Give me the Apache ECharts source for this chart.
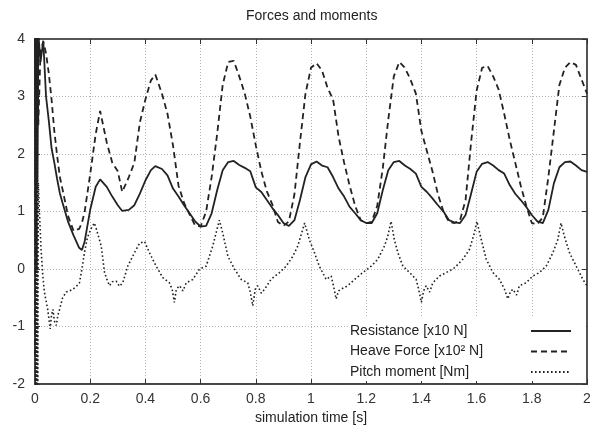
<!DOCTYPE html>
<html>
<head>
<meta charset="utf-8">
<script src="https://cdn.jsdelivr.net/npm/echarts@6/dist/echarts.min.js"></script>
<style>
  html, body { margin: 0; padding: 0; background: #fff; }
  #main { width: 599px; height: 430px; }
</style>
</head>
<body>
<div id="main"></div>
<script>
// time samples shared by resistance and heave force
const time = [
  0, 0.003, 0.006, 0.009, 0.012, 0.02, 0.03, 0.04, 0.05, 0.06,
  0.07, 0.08, 0.09, 0.1, 0.12, 0.14, 0.16, 0.17, 0.18, 0.2,
  0.22, 0.236, 0.26, 0.28, 0.3, 0.316, 0.34, 0.36, 0.38, 0.4,
  0.42, 0.436, 0.46, 0.48, 0.5,
  0.52, 0.54, 0.56, 0.58, 0.6, 0.62, 0.64, 0.66, 0.68, 0.7,
  0.72, 0.74, 0.76, 0.78, 0.8, 0.82, 0.84, 0.86, 0.88, 0.9,
  0.92, 0.94, 0.96, 0.98, 1.0, 1.02, 1.04, 1.06, 1.08, 1.1,
  1.12, 1.14, 1.16, 1.18, 1.2, 1.22, 1.24, 1.26, 1.28, 1.3,
  1.32, 1.34, 1.36, 1.38, 1.4, 1.42, 1.44, 1.46, 1.48, 1.5,
  1.52, 1.54, 1.56, 1.58, 1.6, 1.62, 1.64, 1.66, 1.68, 1.7,
  1.72, 1.74, 1.76, 1.78, 1.8, 1.82, 1.84, 1.86, 1.88, 1.9,
  1.92, 1.94, 1.96, 1.98, 2.0
]
const resistance = [
  4.3, 0.5, 4.2, 1.5, 4.1, 3.6, 3.97, 3.0, 2.58, 2.1,
  1.85, 1.57, 1.32, 1.15, 0.82, 0.58, 0.37, 0.33, 0.48, 1.03,
  1.43, 1.56, 1.43, 1.26, 1.11, 1.01, 1.03, 1.11, 1.31, 1.54,
  1.72, 1.79, 1.74, 1.63, 1.4,
  1.26, 1.11, 0.97, 0.83, 0.74, 0.75, 0.97, 1.37, 1.72, 1.86,
  1.88, 1.81, 1.76, 1.7, 1.42, 1.34, 1.2, 1.06, 0.94, 0.8,
  0.75, 0.85, 1.2, 1.6, 1.82, 1.87, 1.8, 1.77, 1.6, 1.4,
  1.26, 1.08, 0.97, 0.85, 0.8, 0.8, 0.97, 1.37, 1.72, 1.86,
  1.88, 1.8, 1.74, 1.66, 1.43, 1.34, 1.23, 1.11, 1.0, 0.85,
  0.81, 0.8, 0.94, 1.31, 1.69, 1.83, 1.86, 1.8, 1.72, 1.66,
  1.46, 1.31, 1.2, 1.08, 0.94, 0.83, 0.8, 1.03, 1.49, 1.77,
  1.86, 1.87, 1.8, 1.72, 1.69
]
const heave = [
  -1.5, 4.3, 0.0, 4.2, 2.5, 3.8, 3.95, 3.75, 3.4, 2.95,
  2.4, 1.98, 1.6, 1.38, 0.92, 0.66, 0.7, 0.8, 1.0, 1.65,
  2.35, 2.75, 2.2, 1.85, 1.7, 1.34, 1.6, 1.85, 2.55, 2.95,
  3.28, 3.38, 3.05, 2.7, 2.15,
  1.45, 1.15, 0.95, 0.76, 0.74, 1.0, 1.6, 2.35, 3.2, 3.6,
  3.62, 3.35, 3.05, 2.65, 2.15, 1.7, 1.35, 1.12, 0.82, 0.75,
  0.83, 1.3, 2.2, 3.05, 3.5, 3.58, 3.45, 3.15, 2.95, 2.3,
  1.85, 1.45, 1.1, 0.85, 0.8, 0.82, 1.1, 1.75, 2.6, 3.35,
  3.6, 3.5, 3.3, 3.05, 2.4, 2.05, 1.7, 1.3, 1.0, 0.82,
  0.8, 0.85, 1.2, 2.2, 3.1, 3.5, 3.53, 3.35, 3.12, 2.7,
  2.25, 1.85, 1.45, 1.1, 0.8, 0.78, 0.9, 1.6, 2.4, 3.2,
  3.5, 3.6, 3.55, 3.3, 3.05
]
// pitch moment has its own (uneven) samples, to keep the sharp peaks
const pitchTime = [
  0, 0.002, 0.004, 0.006, 0.008, 0.01, 0.012, 0.016, 0.022, 0.028,
  0.034, 0.04, 0.046, 0.05, 0.055, 0.06, 0.065, 0.07, 0.077, 0.083,
  0.089, 0.1, 0.113, 0.125, 0.137, 0.15, 0.161, 0.17, 0.179, 0.19,
  0.197, 0.205, 0.215, 0.222, 0.228, 0.24, 0.252, 0.262, 0.27, 0.28,
  0.294, 0.306, 0.318, 0.336, 0.36, 0.379, 0.397, 0.415, 0.439, 0.463,
  0.487, 0.497, 0.505, 0.512, 0.524, 0.536, 0.548, 0.572, 0.596, 0.62,
  0.644, 0.668, 0.68, 0.699, 0.723, 0.747, 0.771, 0.78, 0.789, 0.798,
  0.807, 0.82, 0.832, 0.855, 0.886, 0.91, 0.934, 0.952, 0.977, 0.994,
  1.013, 1.03, 1.055, 1.073, 1.082, 1.091, 1.1, 1.109, 1.133, 1.158,
  1.188, 1.218, 1.242, 1.266, 1.278, 1.29, 1.302, 1.315, 1.333, 1.357,
  1.381, 1.39, 1.4, 1.408, 1.417, 1.43, 1.441, 1.466, 1.49, 1.514,
  1.526, 1.55, 1.574, 1.592, 1.601, 1.617, 1.635, 1.659, 1.683, 1.701,
  1.713, 1.722, 1.731, 1.745, 1.755, 1.779, 1.804, 1.828, 1.852, 1.876,
  1.894, 1.906, 1.918, 1.937, 1.961, 1.985, 2.0
]
const pitch = [
  4.2, -2.2, 4.2, -2.2, 3.5, -2.0, 1.5, 1.0, 0.34, -0.1,
  -0.4, -0.55, -0.7, -0.85, -1.04, -0.8, -0.7, -0.9, -0.98, -0.8,
  -0.7, -0.5, -0.4, -0.38, -0.35, -0.3, -0.24, 0.0, 0.28, 0.55,
  0.63, 0.72, 0.8, 0.7, 0.68, 0.4, -0.06, -0.2, -0.29, -0.22,
  -0.21, -0.3, -0.24, 0.05, 0.28, 0.45, 0.48, 0.28, 0.05, -0.15,
  -0.24, -0.35, -0.58, -0.35, -0.29, -0.38, -0.24, -0.18, 0.0, 0.05,
  0.4, 0.85, 0.63, 0.22, 0.0, -0.18, -0.24, -0.4, -0.64, -0.35,
  -0.29, -0.42, -0.35, -0.18, -0.06, 0.05, 0.22, 0.4, 0.8, 0.51,
  0.28, 0.05, -0.18, -0.12, -0.3, -0.52, -0.38, -0.35, -0.29, -0.18,
  -0.06, 0.05, 0.17, 0.4, 0.57, 0.83, 0.51, 0.28, 0.05, -0.06,
  -0.18, -0.35, -0.58, -0.38, -0.29, -0.4, -0.24, -0.12, -0.06, 0.0,
  0.05, 0.17, 0.34, 0.63, 0.83, 0.51, 0.17, -0.06, -0.18, -0.35,
  -0.52, -0.4, -0.35, -0.45, -0.29, -0.24, -0.12, -0.06, 0.05, 0.28,
  0.51, 0.8, 0.57, 0.28, 0.05, -0.18, -0.29
]
const seriesNames = ['Resistance [x10 N]', 'Heave Force [x10² N]', 'Pitch moment [Nm]']

const font = '"Liberation Sans", Arial, sans-serif'
const ink = '#222'

let chart = echarts.init(document.getElementById('main'))

function pairs (ts, vs) {
  return ts.map((t, i) => [t, vs[i]])
}

// gnuplot style frame: plain border with inward ticks on top and right too
let mirrorAxis = {
  type: 'value',
  axisLine: { show: true, onZero: false, lineStyle: { color: '#555', width: 2 } },
  axisTick: { show: true, inside: true, length: 5, lineStyle: { color: '#333', width: 1 } },
  axisLabel: { show: false },
  splitLine: { show: false }
}

let option = {
  animation: false,
  backgroundColor: '#fff',
  title: {
    text: 'Forces and moments',
    left: 246,
    top: 9,
    padding: 0,
    textStyle: { fontSize: 14, fontWeight: 'normal', color: ink, fontFamily: font }
  },
  grid: { left: 35, right: 12, top: 39, bottom: 42, show: true, borderColor: '#555', borderWidth: 1.5, backgroundColor: 'transparent' },
  legend: {
    data: seriesNames,
    orient: 'vertical',
    right: 13,
    bottom: 49,
    align: 'right',
    itemWidth: 40,
    itemHeight: 14,
    itemGap: 6.5,
    backgroundColor: '#fff',
    padding: [6, 14, 2, 2],
    itemStyle: { opacity: 0 },
    formatter: name => '{n|' + name + '}',
    textStyle: {
      rich: { n: { width: 176, align: 'left', fontSize: 14, lineHeight: 14, fontFamily: font, color: ink } }
    }
  },
  xAxis: [
    {
      type: 'value', min: 0, max: 2, interval: 0.2, position: 'bottom',
      name: 'simulation time [s]', nameLocation: 'middle', nameGap: 26,
      nameTextStyle: { fontSize: 14, color: ink, fontFamily: font },
      axisLine: { onZero: false, lineStyle: { color: '#333', width: 1.5 } },
      axisTick: { inside: true, length: 5, lineStyle: { color: '#333' } },
      axisLabel: { margin: 8, fontSize: 14, color: '#333', fontFamily: font },
      splitLine: { show: true, lineStyle: { color: '#b5b5b5', type: [1, 2], width: 1 } }
    },
    Object.assign({}, mirrorAxis, { position: 'top', min: 0, max: 2, interval: 0.2 })
  ],
  yAxis: [
    {
      type: 'value', min: -2, max: 4, interval: 1, position: 'left',
      axisLine: { show: true, onZero: false, lineStyle: { color: '#333', width: 1.5 } },
      axisTick: { show: true, inside: true, length: 5, lineStyle: { color: '#333' } },
      axisLabel: { margin: 10, fontSize: 14, color: '#333', fontFamily: font },
      splitLine: { show: true, lineStyle: { color: '#b5b5b5', type: [1, 2], width: 1 } }
    },
    Object.assign({}, mirrorAxis, { position: 'right', min: -2, max: 4, interval: 1 })
  ],
  series: [
    {
      name: seriesNames[0], type: 'line', symbol: 'none', xAxisIndex: 0, yAxisIndex: 0,
      data: pairs(time, resistance),
      itemStyle: { color: ink },
      lineStyle: { color: ink, width: 1.8 }
    },
    {
      name: seriesNames[1], type: 'line', symbol: 'none', xAxisIndex: 0, yAxisIndex: 0,
      data: pairs(time, heave),
      itemStyle: { color: ink },
      lineStyle: { color: ink, width: 1.8, type: [6, 4] }
    },
    {
      name: seriesNames[2], type: 'line', symbol: 'none', xAxisIndex: 0, yAxisIndex: 0,
      data: pairs(pitchTime, pitch),
      itemStyle: { color: ink },
      lineStyle: { color: ink, width: 1.6, type: [1.6, 2.4] }
    }
  ]
}

option && chart.setOption(option)
</script>
</body>
</html>
